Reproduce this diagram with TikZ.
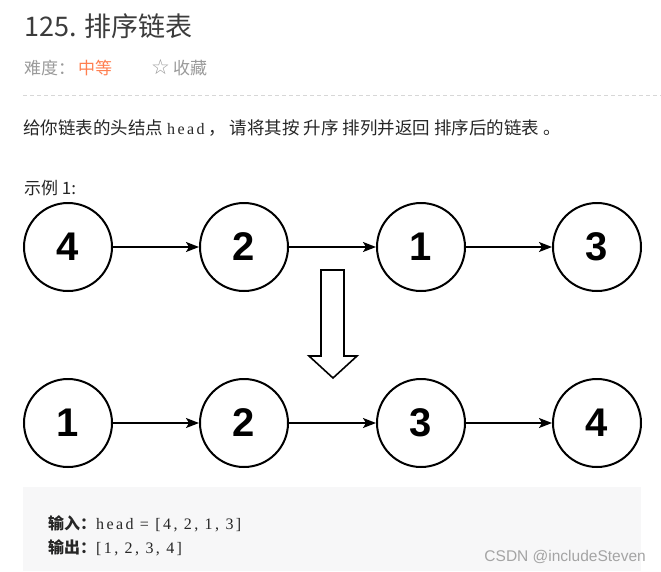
\documentclass[tikz,border=0pt]{standalone}
\usepackage{fontspec}
\setmainfont{Liberation Sans}
\newfontfamily\cjk{Noto Sans CJK SC}
\newfontfamily\sampleserif[LetterSpace=15]{Liberation Serif}
\newfontfamily\symb{DejaVu Sans}
\usetikzlibrary{arrows.meta}
\definecolor{txtdark}{HTML}{262626}
\definecolor{txtgrey}{HTML}{9A9A9A}
\definecolor{hardorange}{HTML}{FF7F50}
\definecolor{boxgrey}{HTML}{F7F7F8}
\begin{document}
\begin{tikzpicture}[x=1pt, y=-1pt,
  lnode/.style={circle, draw, line width=2pt, minimum size=88pt, inner sep=0pt,
    font=\fontsize{40}{40}\selectfont\bfseries},
  link/.style={line width=1.6pt, -{Stealth[length=13pt, width=10pt, inset=3pt]}},
  txt/.style={anchor=base west, inner sep=0pt, text=txtdark}]
\useasboundingbox[fill=white] (0,0) rectangle (661,571);
% header
\node[txt, font=\fontsize{27}{27}\selectfont\cjk, text=txtdark!90] (title) at (24,36) {125. 排序链表};
\node[txt, font=\fontsize{17}{17}\selectfont\cjk, text=txtgrey] (lvl) at (24,74) {难度：};
\node[txt, font=\fontsize{17}{17}\selectfont\cjk, text=hardorange] (lvlval) at (78,74) {中等};
\node[txt, font=\fontsize{17}{17}\selectfont, text=txtgrey] (fav) at (151,74)
  {{\symb\fontsize{21}{21}\selectfont ☆}\hspace{3pt}{\cjk 收藏}};
\draw[dashed, dash pattern=on 4pt off 3pt, txtgrey!40] (23,95) -- (661,95);
\node[txt, font=\fontsize{17.5}{17.5}\selectfont\cjk] (desc) at (23,134)
  {给你链表的头结点 {\sampleserif\fontsize{16}{16}\selectfont head} ， 请将其按 升序 排列并返回 排序后的链表 。};
\node[txt, font=\fontsize{17}{17}\selectfont\cjk] (ex) at (24,194) {示例 1:};
% before
\node[lnode] (a4) at (68,247) {4};
\node[lnode] (a2) at (244,247) {2};
\node[lnode] (a1) at (421,247) {1};
\node[lnode] (a3) at (597,247) {3};
\draw[link] (a4) -- (a2);
\draw[link] (a2) -- (a1);
\draw[link] (a1) -- (a3);
% big arrow
\draw[line width=1.6pt, line join=miter] (321,270) -- (344,270) -- (344,356) -- (357,356)
  -- (333,378) -- (309,356) -- (321,356) -- cycle;
% after
\node[lnode] (b1) at (68,423) {1};
\node[lnode] (b2) at (244,423) {2};
\node[lnode] (b3) at (421,423) {3};
\node[lnode] (b4) at (597,423) {4};
\draw[link] (b1) -- (b2);
\draw[link] (b2) -- (b3);
\draw[link] (b3) -- (b4);
% sample box
\fill[boxgrey] (23,487) rectangle (641,571);
\node[txt, font=\fontsize{16}{16}\selectfont] (inp) at (48,529)
  {{\cjk\bfseries 输入：}{\sampleserif head = [4, 2, 1, 3]}};
\node[txt, font=\fontsize{16}{16}\selectfont] (outp) at (48,553)
  {{\cjk\bfseries 输出：}{\sampleserif [1, 2, 3, 4]}};
\node[txt, anchor=base east, font=\fontsize{15.5}{15.5}\selectfont, text=txtgrey!90] (mark) at (646,561)
  {CSDN @includeSteven};
\end{tikzpicture}
\end{document}
